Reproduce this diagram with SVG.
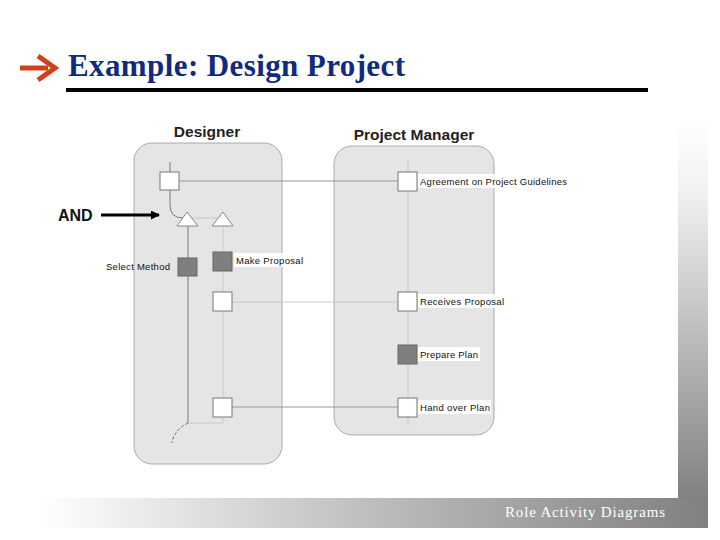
<svg xmlns="http://www.w3.org/2000/svg" width="720" height="540" viewBox="0 0 720 540">
<defs>
<linearGradient id="vbar" x1="0" y1="0" x2="0" y2="1">
<stop offset="0" stop-color="#ffffff"/>
<stop offset="0.2" stop-color="#f0f0f0"/>
<stop offset="1" stop-color="#808080"/>
</linearGradient>
<linearGradient id="hbar" x1="0" y1="0" x2="1" y2="0">
<stop offset="0" stop-color="#ffffff"/>
<stop offset="0.5" stop-color="#bdbdbd"/>
<stop offset="1" stop-color="#808080"/>
</linearGradient>
<marker id="ah" markerWidth="9" markerHeight="9" refX="8" refY="4.5" orient="auto" markerUnits="userSpaceOnUse">
<path d="M0,0 L9,4.5 L0,9 Z" fill="#000"/>
</marker>
<style>
.lane{fill:#e5e5e5;stroke:#999;stroke-width:0.8}
.role{font-family:"Liberation Sans",Arial,sans-serif;font-weight:bold;font-size:15.5px;fill:#222;text-anchor:middle}
.lbl{font-family:"Liberation Sans",Arial,sans-serif;font-size:9.5px;fill:#111}
.wbox{fill:#fff;stroke:#777;stroke-width:1}
.dbox{fill:#7f7f7f;stroke:#666;stroke-width:1}
.tri{fill:#fff;stroke:#888;stroke-width:1}
.thread{stroke:#777;stroke-width:1;fill:none}
.light{stroke:#c8c8c8;stroke-width:1;fill:none}
.inter{stroke:#999;stroke-width:1;fill:none}
</style>
</defs>
<rect width="720" height="540" fill="#fff"/>
<!-- decorative bars -->
<rect x="678" y="120" width="30" height="380" fill="url(#vbar)"/>
<rect x="40" y="498" width="668" height="30" fill="url(#hbar)"/>
<text x="505" y="517" font-family="'Liberation Serif','Times New Roman',serif" font-size="15" fill="#fff" textLength="160">Role Activity Diagrams</text>
<!-- title -->
<g id="title">
<path d="M20,68 H48" stroke="#d2401a" stroke-width="5" fill="none"/>
<path d="M38,56 L55,68 L38,80" stroke="#d2401a" stroke-width="5" fill="none" stroke-linejoin="miter"/>
<text x="68" y="76" font-family="'Liberation Serif','Times New Roman',serif" font-weight="bold" font-size="31" fill="#0f2b80" textLength="337">Example: Design Project</text>
<rect x="66" y="88" width="582" height="4" fill="#000"/>
</g>
<!-- lanes -->
<g id="designer">
<rect class="lane" x="134" y="143" width="148" height="321" rx="18"/>
<text class="role" x="207" y="137">Designer</text>
</g>
<g id="pm">
<rect class="lane" x="334" y="146" width="160" height="289" rx="18"/>
<text class="role" x="414" y="140">Project Manager</text>
</g>
<!-- connectors -->
<g id="connectors">
<path class="thread" d="M170,162 V205 Q170,218 183,218"/>
<path class="light" d="M187,218 H223"/>
<path class="thread" d="M188,226 V423"/>
<path class="light" d="M223,226 V423 H188"/>
<path d="M188,423 Q174,430 172,443" stroke="#666" stroke-width="1" stroke-dasharray="3 2" fill="none"/>
<path class="light" d="M408,160 V425"/>
<path class="inter" d="M180,181 H398"/>
<path class="light" d="M232,302 H398"/>
<path class="inter" d="M232,407 H398"/>
<path d="M101,215 H159" stroke="#000" stroke-width="3" marker-end="url(#ah)"/>
</g>
<text x="58" y="221" font-family="'Liberation Sans',Arial,sans-serif" font-weight="bold" font-size="16" fill="#111">AND</text>
<!-- nodes -->
<g id="start"><rect class="wbox" x="160" y="172" width="19" height="18"/></g>
<g id="and1"><path class="tri" d="M187,212 L198,226 L177,226 Z"/></g>
<g id="and2"><path class="tri" d="M223,212 L233,226 L212,226 Z"/></g>
<g id="select-method">
<rect class="dbox" x="178" y="258" width="19" height="18"/>
<text class="lbl" x="106" y="270" textLength="64">Select Method</text>
</g>
<g id="make-proposal">
<rect class="dbox" x="213" y="252" width="19" height="19"/>
<rect x="234" y="253" width="70" height="14" fill="#fff"/>
<text class="lbl" x="236" y="264" textLength="67">Make Proposal</text>
</g>
<g id="send-proposal"><rect class="wbox" x="213" y="292" width="19" height="19"/></g>
<g id="send-plan"><rect class="wbox" x="213" y="398" width="19" height="19"/></g>
<g id="agreement">
<rect class="wbox" x="398" y="172" width="19" height="19"/>
<rect x="418" y="174" width="150" height="14" fill="#fff"/>
<text class="lbl" x="420" y="185" textLength="147">Agreement on Project Guidelines</text>
</g>
<g id="receives-proposal">
<rect class="wbox" x="398" y="292" width="19" height="19"/>
<rect x="418" y="294" width="86" height="14" fill="#fff"/>
<text class="lbl" x="420" y="305" textLength="84">Receives Proposal</text>
</g>
<g id="prepare-plan">
<rect class="dbox" x="398" y="345" width="19" height="19"/>
<rect x="418" y="347" width="62" height="14" fill="#fff"/>
<text class="lbl" x="420" y="358" textLength="58">Prepare Plan</text>
</g>
<g id="hand-over-plan">
<rect class="wbox" x="398" y="398" width="19" height="19"/>
<rect x="418" y="400" width="73" height="14" fill="#fff"/>
<text class="lbl" x="420" y="411" textLength="70">Hand over Plan</text>
</g>
</svg>
